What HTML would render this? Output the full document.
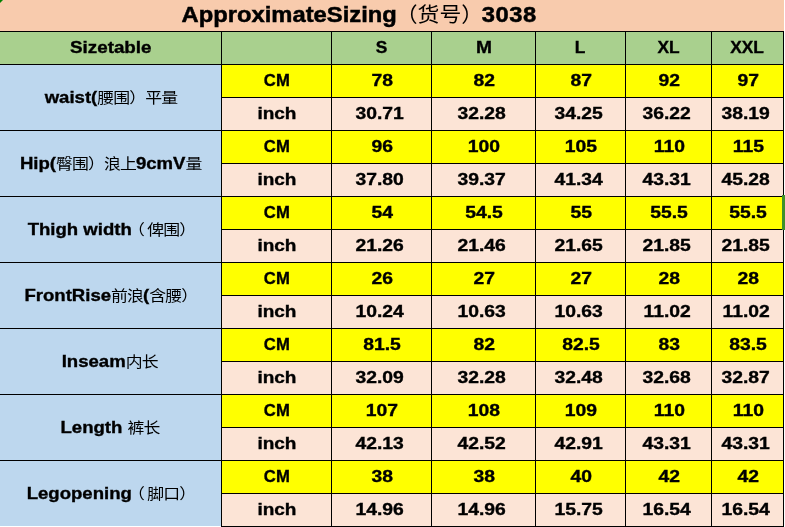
<!DOCTYPE html>
<html><head><meta charset="utf-8"><style>
html,body{margin:0;padding:0;background:#fff;width:785px;height:527px;overflow:hidden}
.c{position:absolute;display:flex;align-items:center;justify-content:center;overflow:visible}
.c b{display:inline-block;white-space:nowrap;font:bold 16.5px "Liberation Sans",Arial,sans-serif;color:#000;-webkit-text-stroke:0.35px #000}
.c b.hd{transform:translateY(-1px) scaleX(1.05)}
.c b.hm{transform:translateY(-1px) scaleX(1.16)}
.c b.st{transform:translateY(-1px) scaleX(1.14)}
.c b.u1{transform:translateY(-1px) scaleX(1.01)}
.c b.u2{transform:translateY(-1px) scaleX(1.15)}
.c b.cm{transform:translateY(-1px) scaleX(1.17)}
.c b.in{transform:translateY(-1px) scaleX(1.17)}
.c b.lb{transform:translateY(-1px) scaleX(1.125)}
.c b i{-webkit-text-stroke:0;font-style:normal;font-weight:normal;letter-spacing:-0.79px;font-family:"Noto Sans CJK SC","WenQuanYi Zen Hei",sans-serif;font-size:15px}
.c b i u{text-decoration:none;margin-left:-3.5px;margin-right:3px}
.c b.cm{margin-left:1px}
.c b.in{margin-right:3.6px}
.h{position:absolute;height:1px;background:#000}
.v{position:absolute;width:1px;background:#000}
.t{position:absolute;white-space:nowrap;-webkit-text-stroke:0.5px #000;font:bold 22.5px "Liberation Sans",Arial,sans-serif;color:#000}
.t i{-webkit-text-stroke:0;font-style:normal;font-weight:normal;font-family:"Noto Sans CJK SC",sans-serif;font-size:20.7px}
</style></head><body>
<div class="c" style="left:0px;top:0px;width:784px;height:31px;background:#F8CBAD"></div><div class="c" style="left:0px;top:32px;width:221px;height:32px;background:#A9D08E"><b class="st">Sizetable</b></div><div class="c" style="left:222px;top:32px;width:109px;height:32px;background:#A9D08E"></div><div class="c" style="left:332px;top:32px;width:99px;height:32px;background:#A9D08E"><b class="hd">S</b></div><div class="c" style="left:432px;top:32px;width:103px;height:32px;background:#A9D08E"><b class="hm">M</b></div><div class="c" style="left:536px;top:32px;width:89px;height:32px;background:#A9D08E"><b class="hd">L</b></div><div class="c" style="left:626px;top:32px;width:85px;height:32px;background:#A9D08E"><b class="hd">XL</b></div><div class="c" style="left:712px;top:32px;width:71px;height:32px;background:#A9D08E"><b class="hd">XXL</b></div><div class="c" style="left:0px;top:65px;width:221px;height:65px;background:#BDD7EE"><b class="lb">waist(<i>腰围）平量</i></b></div><div class="c" style="left:222px;top:65px;width:109px;height:32px;background:#FFFF00"><b class="u1">CM</b></div><div class="c" style="left:222px;top:98px;width:109px;height:32px;background:#FCE4D6"><b class="u2">inch</b></div><div class="c" style="left:332px;top:65px;width:99px;height:32px;background:#FFFF00"><b class="cm">78</b></div><div class="c" style="left:332px;top:98px;width:99px;height:32px;background:#FCE4D6"><b class="in">30.71</b></div><div class="c" style="left:432px;top:65px;width:103px;height:32px;background:#FFFF00"><b class="cm">82</b></div><div class="c" style="left:432px;top:98px;width:103px;height:32px;background:#FCE4D6"><b class="in">32.28</b></div><div class="c" style="left:536px;top:65px;width:89px;height:32px;background:#FFFF00"><b class="cm">87</b></div><div class="c" style="left:536px;top:98px;width:89px;height:32px;background:#FCE4D6"><b class="in">34.25</b></div><div class="c" style="left:626px;top:65px;width:85px;height:32px;background:#FFFF00"><b class="cm">92</b></div><div class="c" style="left:626px;top:98px;width:85px;height:32px;background:#FCE4D6"><b class="in">36.22</b></div><div class="c" style="left:712px;top:65px;width:71px;height:32px;background:#FFFF00"><b class="cm">97</b></div><div class="c" style="left:712px;top:98px;width:71px;height:32px;background:#FCE4D6"><b class="in">38.19</b></div><div class="c" style="left:0px;top:131px;width:221px;height:65px;background:#BDD7EE"><b class="lb">Hip(<i>臀围）浪上</i>9cmV<i>量</i></b></div><div class="c" style="left:222px;top:131px;width:109px;height:32px;background:#FFFF00"><b class="u1">CM</b></div><div class="c" style="left:222px;top:164px;width:109px;height:32px;background:#FCE4D6"><b class="u2">inch</b></div><div class="c" style="left:332px;top:131px;width:99px;height:32px;background:#FFFF00"><b class="cm">96</b></div><div class="c" style="left:332px;top:164px;width:99px;height:32px;background:#FCE4D6"><b class="in">37.80</b></div><div class="c" style="left:432px;top:131px;width:103px;height:32px;background:#FFFF00"><b class="cm">100</b></div><div class="c" style="left:432px;top:164px;width:103px;height:32px;background:#FCE4D6"><b class="in">39.37</b></div><div class="c" style="left:536px;top:131px;width:89px;height:32px;background:#FFFF00"><b class="cm">105</b></div><div class="c" style="left:536px;top:164px;width:89px;height:32px;background:#FCE4D6"><b class="in">41.34</b></div><div class="c" style="left:626px;top:131px;width:85px;height:32px;background:#FFFF00"><b class="cm">110</b></div><div class="c" style="left:626px;top:164px;width:85px;height:32px;background:#FCE4D6"><b class="in">43.31</b></div><div class="c" style="left:712px;top:131px;width:71px;height:32px;background:#FFFF00"><b class="cm">115</b></div><div class="c" style="left:712px;top:164px;width:71px;height:32px;background:#FCE4D6"><b class="in">45.28</b></div><div class="c" style="left:0px;top:197px;width:221px;height:65px;background:#BDD7EE"><b class="lb" style="margin-left:2px">Thigh width<i><u>（</u>俾围）</i></b></div><div class="c" style="left:222px;top:197px;width:109px;height:32px;background:#FFFF00"><b class="u1">CM</b></div><div class="c" style="left:222px;top:230px;width:109px;height:32px;background:#FCE4D6"><b class="u2">inch</b></div><div class="c" style="left:332px;top:197px;width:99px;height:32px;background:#FFFF00"><b class="cm">54</b></div><div class="c" style="left:332px;top:230px;width:99px;height:32px;background:#FCE4D6"><b class="in">21.26</b></div><div class="c" style="left:432px;top:197px;width:103px;height:32px;background:#FFFF00"><b class="cm">54.5</b></div><div class="c" style="left:432px;top:230px;width:103px;height:32px;background:#FCE4D6"><b class="in">21.46</b></div><div class="c" style="left:536px;top:197px;width:89px;height:32px;background:#FFFF00"><b class="cm">55</b></div><div class="c" style="left:536px;top:230px;width:89px;height:32px;background:#FCE4D6"><b class="in">21.65</b></div><div class="c" style="left:626px;top:197px;width:85px;height:32px;background:#FFFF00"><b class="cm">55.5</b></div><div class="c" style="left:626px;top:230px;width:85px;height:32px;background:#FCE4D6"><b class="in">21.85</b></div><div class="c" style="left:712px;top:197px;width:71px;height:32px;background:#FFFF00"><b class="cm">55.5</b></div><div class="c" style="left:712px;top:230px;width:71px;height:32px;background:#FCE4D6"><b class="in">21.85</b></div><div class="c" style="left:0px;top:263px;width:221px;height:65px;background:#BDD7EE"><b class="lb" style="margin-left:1px">FrontRise<i>前浪</i>(<i>含腰）</i></b></div><div class="c" style="left:222px;top:263px;width:109px;height:32px;background:#FFFF00"><b class="u1">CM</b></div><div class="c" style="left:222px;top:296px;width:109px;height:32px;background:#FCE4D6"><b class="u2">inch</b></div><div class="c" style="left:332px;top:263px;width:99px;height:32px;background:#FFFF00"><b class="cm">26</b></div><div class="c" style="left:332px;top:296px;width:99px;height:32px;background:#FCE4D6"><b class="in">10.24</b></div><div class="c" style="left:432px;top:263px;width:103px;height:32px;background:#FFFF00"><b class="cm">27</b></div><div class="c" style="left:432px;top:296px;width:103px;height:32px;background:#FCE4D6"><b class="in">10.63</b></div><div class="c" style="left:536px;top:263px;width:89px;height:32px;background:#FFFF00"><b class="cm">27</b></div><div class="c" style="left:536px;top:296px;width:89px;height:32px;background:#FCE4D6"><b class="in">10.63</b></div><div class="c" style="left:626px;top:263px;width:85px;height:32px;background:#FFFF00"><b class="cm">28</b></div><div class="c" style="left:626px;top:296px;width:85px;height:32px;background:#FCE4D6"><b class="in">11.02</b></div><div class="c" style="left:712px;top:263px;width:71px;height:32px;background:#FFFF00"><b class="cm">28</b></div><div class="c" style="left:712px;top:296px;width:71px;height:32px;background:#FCE4D6"><b class="in">11.02</b></div><div class="c" style="left:0px;top:329px;width:221px;height:65px;background:#BDD7EE"><b class="lb" style="margin-right:1.5px">Inseam<i>内长</i></b></div><div class="c" style="left:222px;top:329px;width:109px;height:32px;background:#FFFF00"><b class="u1">CM</b></div><div class="c" style="left:222px;top:362px;width:109px;height:32px;background:#FCE4D6"><b class="u2">inch</b></div><div class="c" style="left:332px;top:329px;width:99px;height:32px;background:#FFFF00"><b class="cm">81.5</b></div><div class="c" style="left:332px;top:362px;width:99px;height:32px;background:#FCE4D6"><b class="in">32.09</b></div><div class="c" style="left:432px;top:329px;width:103px;height:32px;background:#FFFF00"><b class="cm">82</b></div><div class="c" style="left:432px;top:362px;width:103px;height:32px;background:#FCE4D6"><b class="in">32.28</b></div><div class="c" style="left:536px;top:329px;width:89px;height:32px;background:#FFFF00"><b class="cm">82.5</b></div><div class="c" style="left:536px;top:362px;width:89px;height:32px;background:#FCE4D6"><b class="in">32.48</b></div><div class="c" style="left:626px;top:329px;width:85px;height:32px;background:#FFFF00"><b class="cm">83</b></div><div class="c" style="left:626px;top:362px;width:85px;height:32px;background:#FCE4D6"><b class="in">32.68</b></div><div class="c" style="left:712px;top:329px;width:71px;height:32px;background:#FFFF00"><b class="cm">83.5</b></div><div class="c" style="left:712px;top:362px;width:71px;height:32px;background:#FCE4D6"><b class="in">32.87</b></div><div class="c" style="left:0px;top:395px;width:221px;height:65px;background:#BDD7EE"><b class="lb" style="margin-right:1px">Length <i>裤长</i></b></div><div class="c" style="left:222px;top:395px;width:109px;height:32px;background:#FFFF00"><b class="u1">CM</b></div><div class="c" style="left:222px;top:428px;width:109px;height:32px;background:#FCE4D6"><b class="u2">inch</b></div><div class="c" style="left:332px;top:395px;width:99px;height:32px;background:#FFFF00"><b class="cm">107</b></div><div class="c" style="left:332px;top:428px;width:99px;height:32px;background:#FCE4D6"><b class="in">42.13</b></div><div class="c" style="left:432px;top:395px;width:103px;height:32px;background:#FFFF00"><b class="cm">108</b></div><div class="c" style="left:432px;top:428px;width:103px;height:32px;background:#FCE4D6"><b class="in">42.52</b></div><div class="c" style="left:536px;top:395px;width:89px;height:32px;background:#FFFF00"><b class="cm">109</b></div><div class="c" style="left:536px;top:428px;width:89px;height:32px;background:#FCE4D6"><b class="in">42.91</b></div><div class="c" style="left:626px;top:395px;width:85px;height:32px;background:#FFFF00"><b class="cm">110</b></div><div class="c" style="left:626px;top:428px;width:85px;height:32px;background:#FCE4D6"><b class="in">43.31</b></div><div class="c" style="left:712px;top:395px;width:71px;height:32px;background:#FFFF00"><b class="cm">110</b></div><div class="c" style="left:712px;top:428px;width:71px;height:32px;background:#FCE4D6"><b class="in">43.31</b></div><div class="c" style="left:0px;top:461px;width:221px;height:65px;background:#BDD7EE"><b class="lb" style="margin-left:1.5px">Legopening<i><u>（</u>脚口）</i></b></div><div class="c" style="left:222px;top:461px;width:109px;height:32px;background:#FFFF00"><b class="u1">CM</b></div><div class="c" style="left:222px;top:494px;width:109px;height:32px;background:#FCE4D6"><b class="u2">inch</b></div><div class="c" style="left:332px;top:461px;width:99px;height:32px;background:#FFFF00"><b class="cm">38</b></div><div class="c" style="left:332px;top:494px;width:99px;height:32px;background:#FCE4D6"><b class="in">14.96</b></div><div class="c" style="left:432px;top:461px;width:103px;height:32px;background:#FFFF00"><b class="cm">38</b></div><div class="c" style="left:432px;top:494px;width:103px;height:32px;background:#FCE4D6"><b class="in">14.96</b></div><div class="c" style="left:536px;top:461px;width:89px;height:32px;background:#FFFF00"><b class="cm">40</b></div><div class="c" style="left:536px;top:494px;width:89px;height:32px;background:#FCE4D6"><b class="in">15.75</b></div><div class="c" style="left:626px;top:461px;width:85px;height:32px;background:#FFFF00"><b class="cm">42</b></div><div class="c" style="left:626px;top:494px;width:85px;height:32px;background:#FCE4D6"><b class="in">16.54</b></div><div class="c" style="left:712px;top:461px;width:71px;height:32px;background:#FFFF00"><b class="cm">42</b></div><div class="c" style="left:712px;top:494px;width:71px;height:32px;background:#FCE4D6"><b class="in">16.54</b></div>
<div class="h" style="left:0;top:31px;width:784px"></div><div class="h" style="left:0;top:64px;width:784px"></div><div class="h" style="left:221px;top:97px;width:563px"></div><div class="h" style="left:0;top:130px;width:784px"></div><div class="h" style="left:221px;top:163px;width:563px"></div><div class="h" style="left:0;top:196px;width:784px"></div><div class="h" style="left:221px;top:229px;width:563px"></div><div class="h" style="left:0;top:262px;width:784px"></div><div class="h" style="left:221px;top:295px;width:563px"></div><div class="h" style="left:0;top:328px;width:784px"></div><div class="h" style="left:221px;top:361px;width:563px"></div><div class="h" style="left:0;top:394px;width:784px"></div><div class="h" style="left:221px;top:427px;width:563px"></div><div class="h" style="left:0;top:460px;width:784px"></div><div class="h" style="left:221px;top:493px;width:563px"></div><div class="h" style="left:221px;top:526px;width:563px"></div><div class="v" style="left:221px;top:31px;height:496px"></div><div class="v" style="left:331px;top:31px;height:496px"></div><div class="v" style="left:431px;top:31px;height:496px"></div><div class="v" style="left:535px;top:31px;height:496px"></div><div class="v" style="left:625px;top:31px;height:496px"></div><div class="v" style="left:711px;top:31px;height:496px"></div><div class="v" style="left:783px;top:31px;height:496px"></div>
<div class="t" style="left:0;top:0;width:718px;height:31px;display:flex;align-items:center;justify-content:center"><span style="display:inline-block;transform:translateY(-3px) scaleX(1.056)">ApproximateSizing<i style="margin-left:-1px">（货号）</i><span style="margin-left:-1.3px;letter-spacing:0.5px">3038</span></span></div>
<div style="position:absolute;left:782px;top:195px;width:3px;height:35px;background:#3d912c"></div>
<div style="position:absolute;left:0;top:0;width:0;height:0;border-top:3px solid #008000;border-right:3px solid transparent"></div>
</body></html>
